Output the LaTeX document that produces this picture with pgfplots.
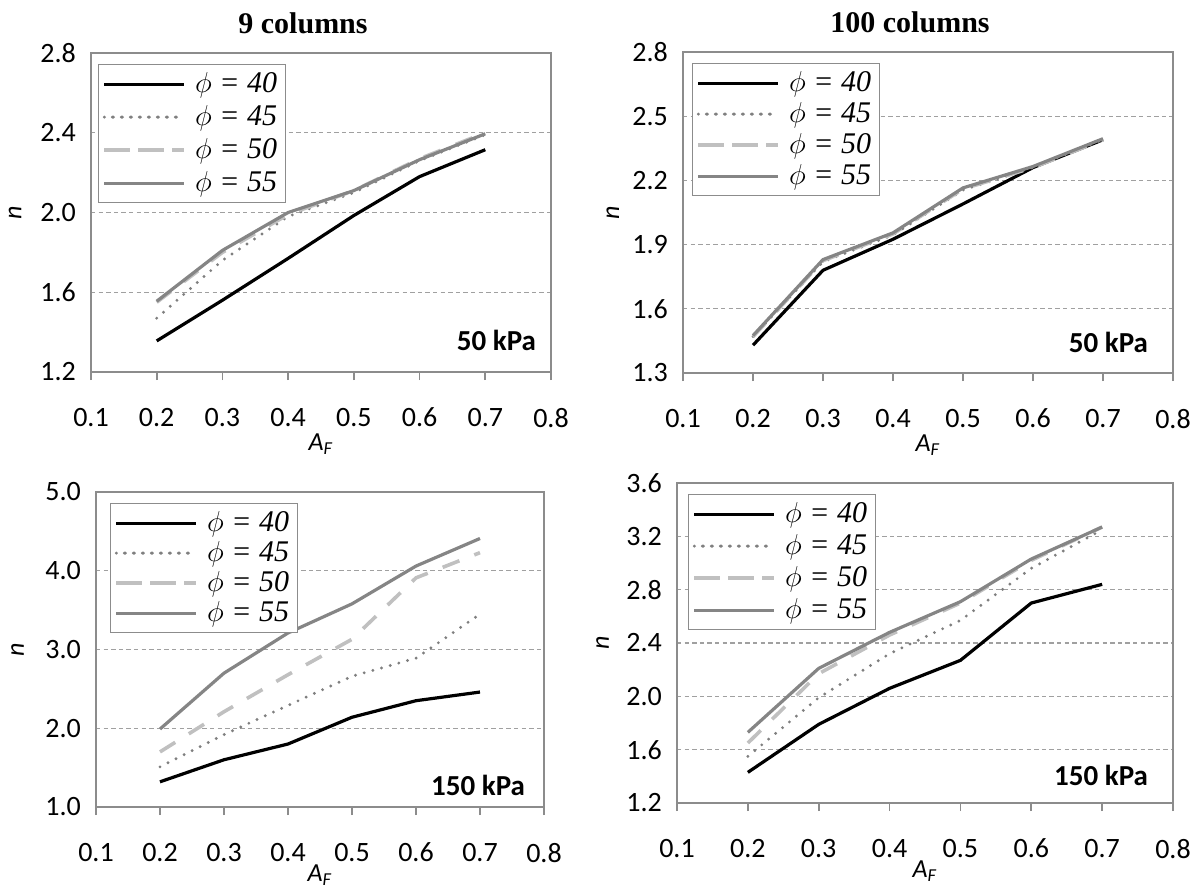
\documentclass[border=0pt]{standalone}
\usepackage{fontspec}
\setmainfont{Carlito}
\newfontfamily\tnr{Liberation Serif}
\usepackage{pgfplots}
\pgfplotsset{compat=1.18}

\definecolor{framegray}{HTML}{8C8C8C}
\definecolor{gridgray}{HTML}{A0A0A0}
\definecolor{dotgray}{HTML}{7F7F7F}
\definecolor{dashgray}{HTML}{C0C0C0}
\definecolor{solidgray}{HTML}{858585}

\tikzset{kpa/.style={anchor=east, font=\bfseries\fontsize{14.5}{16}\selectfont}}

\pgfplotsset{
  panel/.style={
    scale only axis, anchor=south west,
    xmin=0.1, xmax=0.8,
    xtick={0.1,0.2,0.3,0.4,0.5,0.6,0.7,0.8},
    xtick pos=bottom, ytick pos=left,
    tick align=outside, major tick length=4pt,
    xtick style={framegray, line width=0.9pt},
    ytick style={draw=none},
    axis line style={framegray, line width=0.9pt},
    ymajorgrids,
    major grid style={gridgray, line width=0.6pt, dash pattern=on 2.2pt off 1.6pt},
    /pgf/number format/assume math mode=true,
    /pgf/number format/.cd, fixed, fixed zerofill, precision=1, /pgfplots/.cd,
    tick label style={font=\fontsize{14}{16}\selectfont},
    xticklabel style={yshift=-10.5pt},
    yticklabel style={xshift=0pt},
    xlabel={\textit{A}\textsubscript{\textit{F}}},
    ylabel={\textit{n}},
    label style={font=\fontsize{13}{15}\selectfont},
    xlabel style={at={(axis description cs:0.5,0)}, anchor=center, yshift=-36pt},
    legend cell align=left,
    legend image code/.code={%
      \path (0pt,0pt) -- (40pt,0pt);
      \draw[##1] (4pt,0pt) -- (39pt,0pt);},
    legend style={at={(0,1)}, anchor=north west, xshift=3.5pt, yshift=-5.5pt,
      draw=framegray, line width=0.6pt,
      font=\tnr\itshape\fontsize{15}{16}\selectfont,
      row sep=1pt, inner sep=2pt},
  },
  p40/.style={black, line width=1.6pt},
  p45/.style={dotgray, line width=1.6pt, line cap=round, dash pattern=on 0pt off 4.5pt},
  p50/.style={dashgray, line width=1.8pt, dash pattern=on 9pt off 8pt},
  p55/.style={solidgray, line width=1.6pt},
}

\begin{document}
\begin{tikzpicture}
\useasboundingbox (0,0) rectangle (599pt,-445pt);

\node[font=\tnr\bfseries\fontsize{15}{18}\selectfont] at (151.5pt,-11.5pt) {9 columns};
\node[font=\tnr\bfseries\fontsize{15}{18}\selectfont] at (455pt,-11pt) {100 columns};

% 9 columns, 50 kPa
\begin{axis}[panel, at={(45.5pt,-186pt)}, width=230pt, height=159.5pt,
  ymin=1.2, ymax=2.8, ytick={1.2,1.6,2.0,2.4,2.8},
  ylabel style={at={(axis description cs:-0.165,0.5)}, anchor=center}]
\addplot[p40] coordinates {(0.2,1.356) (0.3,1.56) (0.4,1.77) (0.5,1.985) (0.6,2.18) (0.7,2.315)};
\addlegendentry{\hspace{2.5pt}$\phi$ = 40}
\addplot[p45] coordinates {(0.2,1.47) (0.3,1.76) (0.4,1.98) (0.5,2.10) (0.6,2.26) (0.7,2.39)};
\addlegendentry{\hspace{2.5pt}$\phi$ = 45}
\addplot[p50] coordinates {(0.2,1.55) (0.3,1.80) (0.4,1.99) (0.5,2.11) (0.6,2.27) (0.7,2.40)};
\addlegendentry{\hspace{2.5pt}$\phi$ = 50}
\addplot[p55] coordinates {(0.2,1.555) (0.3,1.81) (0.4,2.00) (0.5,2.11) (0.6,2.265) (0.7,2.395)};
\addlegendentry{\hspace{2.5pt}$\phi$ = 55}
\node[kpa, xshift=-4pt, yshift=16pt] at (rel axis cs:1,0) {50 kPa};
\end{axis}

% 100 columns, 50 kPa
\begin{axis}[panel, at={(341.5pt,-186.5pt)}, width=245pt, height=160.5pt,
  ymin=1.3, ymax=2.8, ytick={1.3,1.6,1.9,2.2,2.5,2.8},
  ylabel style={at={(axis description cs:-0.143,0.5)}, anchor=center},
  legend style={xshift=1pt, row sep=0pt}]
\addplot[p40] coordinates {(0.2,1.43) (0.3,1.78) (0.4,1.925) (0.5,2.09) (0.6,2.26) (0.7,2.39)};
\addlegendentry{\hspace{2.5pt}$\phi$ = 40}
\addplot[p45] coordinates {(0.2,1.47) (0.3,1.82) (0.4,1.945) (0.5,2.155) (0.6,2.26) (0.7,2.39)};
\addlegendentry{\hspace{2.5pt}$\phi$ = 45}
\addplot[p50] coordinates {(0.2,1.47) (0.3,1.825) (0.4,1.95) (0.5,2.16) (0.6,2.26) (0.7,2.39)};
\addlegendentry{\hspace{2.5pt}$\phi$ = 50}
\addplot[p55] coordinates {(0.2,1.475) (0.3,1.83) (0.4,1.955) (0.5,2.165) (0.6,2.265) (0.7,2.395)};
\addlegendentry{\hspace{2.5pt}$\phi$ = 55}
\node[kpa, xshift=-9pt, yshift=15.5pt] at (rel axis cs:1,0) {50 kPa};
\end{axis}

% 9 columns, 150 kPa
\begin{axis}[panel, at={(48pt,-403.5pt)}, width=224pt, height=157.5pt,
  ymin=1, ymax=5, ytick={1,2,3,4,5},
  ylabel style={at={(axis description cs:-0.175,0.5)}, anchor=center},
  xlabel style={yshift=2pt},
  legend style={xshift=3.5pt, row sep=-0.5pt}]
\addplot[p40] coordinates {(0.2,1.32) (0.3,1.60) (0.4,1.80) (0.5,2.14) (0.6,2.35) (0.7,2.46)};
\addlegendentry{\hspace{2.5pt}$\phi$ = 40}
\addplot[p45] coordinates {(0.2,1.51) (0.3,1.92) (0.4,2.29) (0.5,2.66) (0.6,2.89) (0.7,3.45)};
\addlegendentry{\hspace{2.5pt}$\phi$ = 45}
\addplot[p50] coordinates {(0.2,1.70) (0.3,2.21) (0.4,2.68) (0.5,3.13) (0.6,3.91) (0.7,4.23)};
\addlegendentry{\hspace{2.5pt}$\phi$ = 50}
\addplot[p55] coordinates {(0.2,1.99) (0.3,2.70) (0.4,3.21) (0.5,3.58) (0.6,4.06) (0.7,4.41)};
\addlegendentry{\hspace{2.5pt}$\phi$ = 55}
\node[kpa, xshift=-6pt, yshift=11pt] at (rel axis cs:1,0) {150 kPa};
\end{axis}

% 100 columns, 150 kPa
\begin{axis}[panel, at={(338.5pt,-401.5pt)}, width=248pt, height=160pt,
  ymin=1.2, ymax=3.6, ytick={1.2,1.6,2.0,2.4,2.8,3.2,3.6},
  ylabel style={at={(axis description cs:-0.15,0.5)}, anchor=center},
  xlabel style={yshift=2pt},
  legend style={xshift=2pt, row sep=0.5pt}]
\addplot[p40] coordinates {(0.2,1.43) (0.3,1.79) (0.4,2.06) (0.5,2.27) (0.6,2.70) (0.7,2.84)};
\addlegendentry{\hspace{2.5pt}$\phi$ = 40}
\addplot[p45] coordinates {(0.2,1.55) (0.3,1.99) (0.4,2.32) (0.5,2.57) (0.6,2.96) (0.7,3.25)};
\addlegendentry{\hspace{2.5pt}$\phi$ = 45}
\addplot[p50] coordinates {(0.2,1.65) (0.3,2.17) (0.4,2.46) (0.5,2.70) (0.6,3.02) (0.7,3.27)};
\addlegendentry{\hspace{2.5pt}$\phi$ = 50}
\addplot[p55] coordinates {(0.2,1.73) (0.3,2.21) (0.4,2.48) (0.5,2.71) (0.6,3.03) (0.7,3.27)};
\addlegendentry{\hspace{2.5pt}$\phi$ = 55}
\node[kpa, xshift=-9pt, yshift=14pt] at (rel axis cs:1,0) {150 kPa};
\end{axis}
\end{tikzpicture}
\end{document}
